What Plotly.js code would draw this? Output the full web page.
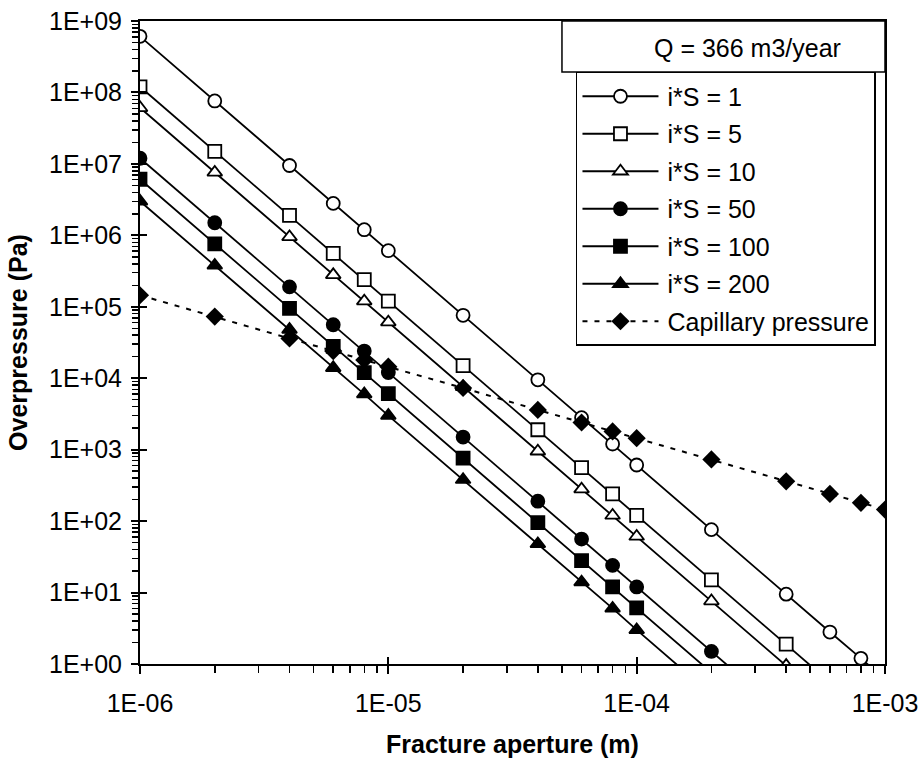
<!DOCTYPE html>
<html>
<head>
<meta charset="utf-8">
<script src="https://cdn.plot.ly/plotly-3.0.1.min.js"></script>
<style>
html,body{margin:0;padding:0;background:#fff;}
#chart{width:920px;height:763px;}
</style>
</head>
<body>
<div id="chart"></div>
<script>
// Fracture aperture (m)
const aperture = [1e-6, 2e-6, 4e-6, 6e-6, 8e-6, 1e-5, 2e-5, 4e-5, 6e-5, 8e-5, 1e-4, 2e-4, 4e-4, 6e-4, 8e-4, 1e-3];
// Overpressure (Pa) for each i*S
const is1   = [6.1e8, 7.6e7, 9.5e6, 2.8e6, 1.2e6, 6.1e5, 7.6e4, 9.5e3, 2.8e3, 1.2e3, 610, 76, 9.5, 2.8, 1.2, 0.61];
const is5   = [1.2e8, 1.5e7, 1.9e6, 5.6e5, 2.4e5, 1.2e5, 1.5e4, 1.9e3, 560, 240, 120, 15, 1.9, 0.56, 0.24, 0.12];
const is10  = [6.1e7, 7.6e6, 9.5e5, 2.8e5, 1.2e5, 6.1e4, 7.6e3, 950, 280, 120, 61, 7.6, 0.95, 0.28, 0.12, 0.061];
const is50  = [1.2e7, 1.5e6, 1.9e5, 5.6e4, 2.4e4, 1.2e4, 1.5e3, 190, 56, 24, 12, 1.5, 0.19, 0.056, 0.024, 0.012];
const is100 = [6.1e6, 7.6e5, 9.5e4, 2.8e4, 1.2e4, 6.1e3, 760, 95, 28, 12, 6.1, 0.76, 0.095, 0.028, 0.012, 0.0061];
const is200 = [3.0e6, 3.8e5, 4.8e4, 1.4e4, 6.0e3, 3.0e3, 380, 48, 14, 6.0, 3.0, 0.38, 0.048, 0.014, 0.006, 0.003];
// Capillary pressure (Pa)
const capillary = [1.45e5, 7.3e4, 3.6e4, 2.4e4, 1.8e4, 1.45e4, 7.3e3, 3.6e3, 2.4e3, 1.8e3, 1.45e3, 730, 360, 240, 180, 145];

const seriesNames = ['i*S = 1', 'i*S = 5', 'i*S = 10', 'i*S = 50', 'i*S = 100', 'i*S = 200', 'Capillary pressure'];
const xTickVals = [1e-6, 1e-5, 1e-4, 1e-3];
const xTickText = ['1E-06', '1E-05', '1E-04', '1E-03'];
const yTickVals = [1, 10, 100, 1e3, 1e4, 1e5, 1e6, 1e7, 1e8, 1e9];
const yTickText = ['1E+00', '1E+01', '1E+02', '1E+03', '1E+04', '1E+05', '1E+06', '1E+07', '1E+08', '1E+09'];
const annotationText = 'Q = 366 m3/year';

const FONT = 'Arial, "Liberation Sans", sans-serif';
const FS = 25;
const lineStyle = {color: '#000', width: 1.8};

function mk(y, name, symbol, fill, idx) {
  return {
    x: aperture, y: y, name: name, type: 'scatter', mode: 'lines+markers',
    legendgroup: 'g' + idx,
    line: lineStyle,
    marker: {symbol: symbol, size: 13, color: fill, line: {color: '#000', width: 1.8}}
  };
}

const traces = [
  mk(is1, seriesNames[0], 'circle', '#fff', 0),
  mk(is5, seriesNames[1], 'square', '#fff', 1),
  mk(is10, seriesNames[2], 'triangle-up', '#fff', 2),
  mk(is50, seriesNames[3], 'circle', '#000', 3),
  mk(is100, seriesNames[4], 'square', '#000', 4),
  mk(is200, seriesNames[5], 'triangle-up', '#000', 5),
  {
    x: aperture, y: capillary, name: seriesNames[6], type: 'scatter', mode: 'lines+markers',
    legendgroup: 'g6',
    line: {color: '#000', width: 2, dash: '5px,7px'},
    marker: {symbol: 'diamond', size: 14, color: '#000', line: {color: '#000', width: 0}}
  },
  {x: [], y: [], xaxis: 'x2', yaxis: 'y2', showlegend: false, hoverinfo: 'skip', type: 'scatter'}
];

const axFont = {family: FONT, size: FS, color: '#000'};

const layout = {
  width: 920, height: 763,
  margin: {l: 140, r: 35, t: 21, b: 99},
  paper_bgcolor: '#fff', plot_bgcolor: '#fff',
  font: {family: FONT, color: '#000', size: FS},
  showlegend: true,
  legend: {
    x: 0.5852, y: 0.9207, xanchor: 'left', yanchor: 'top',
    bgcolor: '#fff', bordercolor: '#000', borderwidth: 1.5,
    font: {family: FONT, size: FS, color: '#000'},
    traceorder: 'grouped', tracegroupgap: 2, itemwidth: 80
  },
  xaxis: {
    type: 'log', range: [-6, -3],
    tickmode: 'array', tickvals: xTickVals, ticktext: xTickText,
    ticks: 'outside', ticklen: 8, tickwidth: 2, tickcolor: '#000',
    minor: {ticks: 'outside', ticklen: 7, tickwidth: 1.5, tickcolor: '#000', dtick: 'D1', showgrid: false},
    showline: true, linecolor: '#000', linewidth: 2, mirror: true,
    showgrid: false, zeroline: false,
    tickfont: axFont, ticklabelstandoff: 8,
    title: {text: 'Fracture aperture (m)', font: {family: FONT, size: FS, color: '#000', weight: 'bold'}, standoff: 19}
  },
  yaxis: {
    type: 'log', range: [0, 9],
    tickmode: 'array', tickvals: yTickVals, ticktext: yTickText,
    ticks: 'outside', ticklen: 7, tickwidth: 2, tickcolor: '#000',
    minor: {ticks: 'outside', ticklen: 6, tickwidth: 1.5, tickcolor: '#000', dtick: 'D1', showgrid: false},
    showline: true, linecolor: '#000', linewidth: 2, mirror: true,
    showgrid: false, zeroline: false,
    tickfont: axFont, ticklabelstandoff: 4,
    title: {text: 'Overpressure (Pa)', font: {family: FONT, size: FS, color: '#000', weight: 'bold'}, standoff: 14}
  },
  xaxis2: {
    type: 'log', range: [-6, -3], overlaying: 'x', anchor: 'y2', side: 'bottom',
    tickmode: 'array', tickvals: xTickVals, ticktext: xTickText, showticklabels: false,
    ticks: 'inside', ticklen: 7, tickwidth: 2, tickcolor: '#000',
    showline: false, showgrid: false, zeroline: false
  },
  yaxis2: {
    type: 'log', range: [0, 9], overlaying: 'y', anchor: 'x2', side: 'left',
    tickmode: 'array', tickvals: yTickVals, ticktext: yTickText, showticklabels: false,
    ticks: 'inside', ticklen: 7, tickwidth: 2, tickcolor: '#000',
    showline: false, showgrid: false, zeroline: false
  },
  shapes: [{
    type: 'rect', xref: 'paper', yref: 'paper',
    x0: 0.5664, x1: 1, y0: 0.9207, y1: 1,
    line: {color: '#000', width: 1.5}, fillcolor: 'rgba(0,0,0,0)'
  }],
  annotations: [{
    text: annotationText, xref: 'paper', yref: 'paper',
    x: 0.815, y: 0.958, xanchor: 'center', yanchor: 'middle',
    showarrow: false, font: {family: FONT, size: FS, color: '#000'}
  }]
};

Plotly.newPlot('chart', traces, layout, {displayModeBar: false, staticPlot: true}).then(function(gd){
  gd.querySelectorAll('.legend .legendlines path').forEach(function(p){ p.setAttribute('d', 'M5,0h76'); });
  gd.querySelectorAll('.legend .legendpoints path.scatterpts').forEach(function(p){ p.setAttribute('transform', 'translate(43,0)'); });
});
</script>
</body>
</html>
